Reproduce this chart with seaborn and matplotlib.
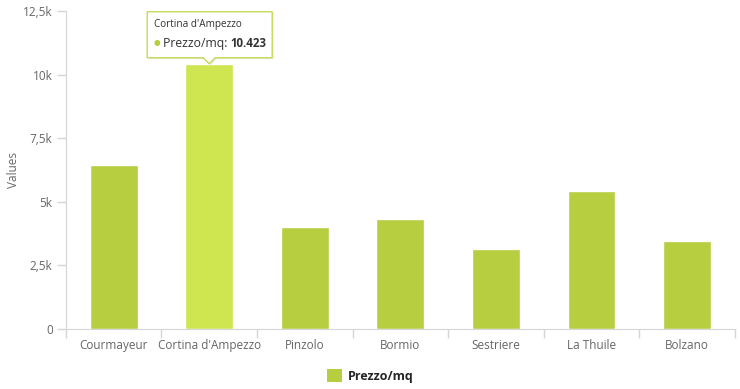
import numpy as np
import pandas as pd

import matplotlib.pyplot as plt
import matplotlib.transforms as mtransforms
from matplotlib.patches import Polygon, Patch
import seaborn as sns

# Dati
localita = ["Courmayeur", "Cortina d'Ampezzo", "Pinzolo", "Bormio",
            "Sestriere", "La Thuile", "Bolzano"]
prezzo_mq = [6450, 10423, 4010, 4320, 3140, 5420, 3460]
y_ticks = [0, 2500, 5000, 7500, 10000, 12500]
y_labels = ["0", "2,5k", "5k", "7,5k", "10k", "12,5k"]
evidenziata = "Cortina d'Ampezzo"

verde = "#b6ce40"
verde_chiaro = "#d0e651"
grigio_asse = "#d6d6d6"
grigio_testo = "#666666"

sns.set_style("white")
plt.rcParams['font.family'] = ['Open Sans', 'DejaVu Sans']

df = pd.DataFrame({"localita": localita, "prezzo": prezzo_mq})
colori = {l: (verde_chiaro if l == evidenziata else verde) for l in localita}

fig = plt.figure(figsize=(7.4, 3.89), dpi=100)
ax = fig.add_axes([0.089, 0.154, 0.904, 0.818])

sns.barplot(
    data=df,
    x="localita",
    y="prezzo",
    hue="localita",
    palette=colori,
    legend=False,
    width=0.5,
    saturation=1,
    ax=ax
)

ax.set_xlim(-0.5, len(localita) - 0.5)
ax.set_ylim(0, 12500)

# assi
for s in ["top", "right"]:
    ax.spines[s].set_visible(False)
ax.spines["left"].set_color(grigio_asse)
ax.spines["bottom"].set_color(grigio_asse)

ax.set_yticks(y_ticks)
ax.set_yticklabels(y_labels)
ax.tick_params(axis="y", left=True, length=6.5, width=1, color=grigio_asse,
               labelsize=8.5, labelcolor=grigio_testo, pad=3)

ax.set_xticks(range(len(localita)))
ax.set_xticklabels(localita)
ax.set_xticks(np.arange(-0.5, len(localita)), minor=True)
ax.tick_params(axis="x", which="major", bottom=True, length=0,
               labelsize=8.5, labelcolor=grigio_testo, pad=7)
ax.tick_params(axis="x", which="minor", bottom=True, length=6.5, width=1,
               color=grigio_asse)

ax.set_xlabel("")
ax.set_ylabel("Values", fontsize=8.5, color=grigio_testo)
ax.yaxis.set_label_coords(-0.068, 0.5)

# tooltip
i = localita.index(evidenziata)
v = prezzo_mq[i]
trans = fig.dpi_scale_trans + mtransforms.ScaledTranslation(i, v, ax.transData)
px = 1 / 100
punti = np.array([(-62, 6), (-6, 6), (0, 0), (6, 6), (63, 6),
                  (63, 52), (-62, 52)]) * px
ombra = Polygon(punti + np.array([1.5, -1.5]) * px, closed=True,
                transform=trans, facecolor="#000000", alpha=0.08,
                edgecolor="none", clip_on=False, zorder=5)
box = Polygon(punti, closed=True, transform=trans, facecolor="white",
              edgecolor="#c3da55", linewidth=1, clip_on=False, zorder=6)
ax.add_patch(ombra)
ax.add_patch(box)

ax.text(-55 * px, 39 * px, evidenziata, transform=trans, fontsize=7.2,
        color="#333333", va="center", ha="left", zorder=7)
ax.text(-56 * px, 20 * px, "\u25cf", transform=trans, fontsize=5.5,
        color=verde, va="center", ha="left", zorder=7)
t = ax.text(-46 * px, 20 * px, "Prezzo/mq: ", transform=trans,
            fontsize=8.8, color="#333333", va="center", ha="left", zorder=7)
ax.annotate(f"{v:,}".replace(",", "."), xy=(1, 0.5), xycoords=t,
            va="center", ha="left", fontsize=8.3, fontweight="bold",
            color="#333333", zorder=7)

# legenda
fig.legend(
    handles=[Patch(facecolor=verde, edgecolor="none", label="Prezzo/mq")],
    loc="lower center",
    bbox_to_anchor=(0.5, -0.013),
    frameon=False,
    handlelength=1.2,
    handleheight=1.2,
    handletextpad=0.5,
    prop={"weight": "bold", "size": 9}
)

fig.savefig("out.png", dpi=100)
